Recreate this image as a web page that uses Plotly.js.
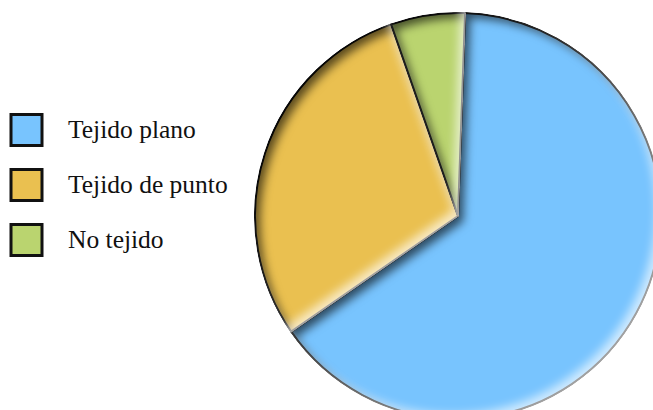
<!DOCTYPE html>
<html>
<head>
<meta charset="utf-8">
<script src="https://cdn.plot.ly/plotly-3.0.1.min.js"></script>
<style>
  html, body { margin:0; padding:0; background:#fff; overflow:hidden; width:653px; height:410px; }
  #chart { width:680px; height:440px; }
  .slice path.surface { filter: url(#bevel); }
</style>
</head>
<body>
<svg width="0" height="0" style="position:absolute">
  <defs>
    <filter id="bevel" x="-10%" y="-10%" width="120%" height="120%" color-interpolation-filters="sRGB">
      <feGaussianBlur in="SourceAlpha" stdDeviation="5" result="blur"/>
      <feOffset in="blur" dx="6" dy="6" result="offB"/>
      <feComposite in="SourceAlpha" in2="offB" operator="arithmetic" k2="1" k3="-1" result="shEdge"/>
      <feFlood flood-color="#000" flood-opacity="0.62"/>
      <feComposite in2="shEdge" operator="in" result="shadow"/>
      <feOffset in="blur" dx="-6" dy="-6" result="offH"/>
      <feComposite in="SourceAlpha" in2="offH" operator="arithmetic" k2="1" k3="-1" result="hiEdge"/>
      <feFlood flood-color="#fff" flood-opacity="0.65"/>
      <feComposite in2="hiEdge" operator="in" result="hi"/>
      <feMerge result="m"><feMergeNode in="SourceGraphic"/><feMergeNode in="shadow"/><feMergeNode in="hi"/></feMerge>
      <feComposite in="m" in2="SourceAlpha" operator="in"/>
    </filter>
  </defs>
</svg>
<div id="chart"></div>
<script>
const categories = ["Tejido plano", "Tejido de punto", "No tejido"];
const values = [64.8, 29.3, 5.9];
const colors = ["#78C4FE", "#EAC050", "#BAD46F"];

const W = 680, H = 440;
const px = x => x / W;
const py = y => 1 - y / H;

const shapes = [];
const annotations = [];
const legendY = [130, 185, 240];
categories.forEach((c, i) => {
  const cy = legendY[i];
  shapes.push({
    type: "rect", xref: "paper", yref: "paper",
    x0: px(11), x1: px(42), y0: py(cy - 15.5), y1: py(cy + 15.5),
    fillcolor: colors[i], line: {color: "#111", width: 3}
  });
  annotations.push({
    xref: "paper", yref: "paper", x: px(66), y: py(cy),
    xanchor: "left", yanchor: "middle", showarrow: false,
    text: c, font: {family: "Liberation Serif", size: 25.5, color: "#111"}
  });
});

const data = [{
  type: "pie",
  labels: categories,
  values: values,
  sort: false,
  direction: "clockwise",
  rotation: 2,
  textinfo: "none",
  hoverinfo: "label+percent",
  marker: {colors: colors, line: {color: "#0a0a0a", width: 2}},
  domain: {x: [px(255), px(661)], y: [py(419), py(13)]},
  showlegend: false
}];

const layout = {
  width: W, height: H,
  margin: {l:0, r:0, t:0, b:0},
  paper_bgcolor: "#fff",
  showlegend: false,
  shapes: shapes,
  annotations: annotations
};

Plotly.newPlot("chart", data, layout, {displayModeBar: false, staticPlot: true});
</script>
</body>
</html>
